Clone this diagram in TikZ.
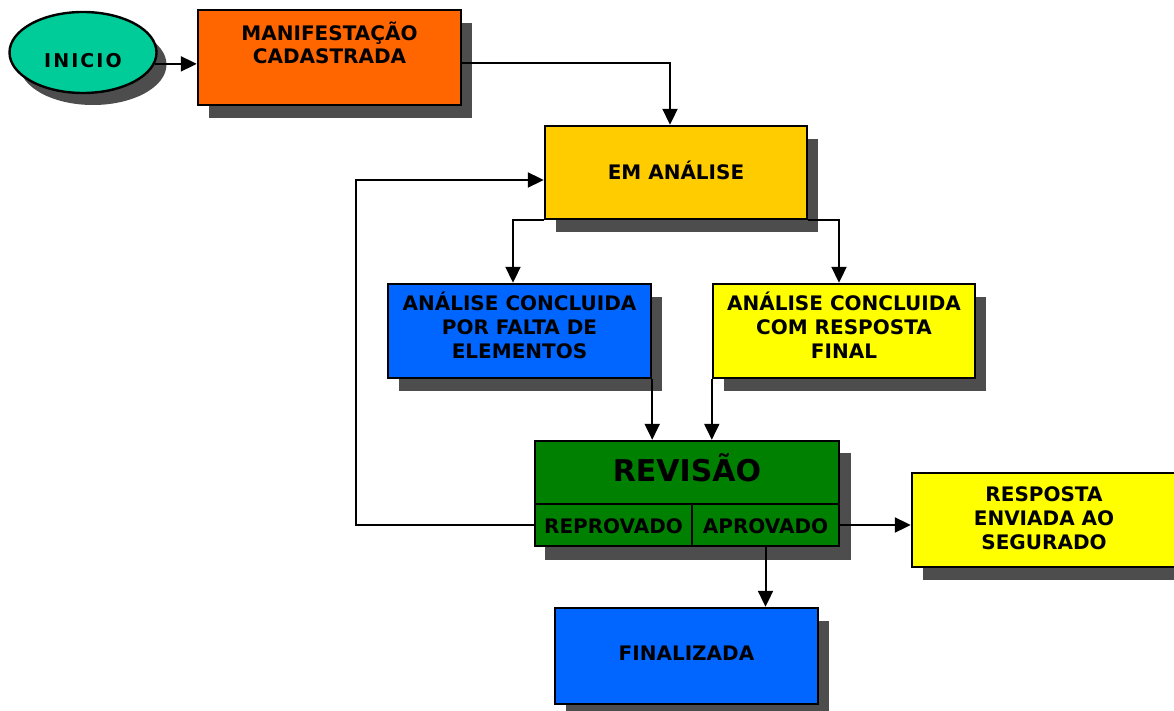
\documentclass[tikz,border=0pt]{standalone}
\usepackage{fontspec}
\setmainfont{DejaVu Sans}
\usetikzlibrary{shapes.geometric,shadows,arrows.meta,backgrounds}
\definecolor{cInicio}{RGB}{0,204,153}
\definecolor{cOrange}{RGB}{255,102,0}
\definecolor{cGold}{RGB}{255,204,0}
\definecolor{cBlue}{RGB}{0,102,255}
\definecolor{cYellow}{RGB}{255,255,0}
\definecolor{cGreen}{RGB}{0,128,0}
\definecolor{cShadow}{RGB}{77,77,77}
\begin{document}
\begin{tikzpicture}[x=1pt,y=-1pt,
  shad/.style={general shadow={fill=cShadow, shadow xshift=11pt, shadow yshift=-13pt}},
  box/.style={shad, draw=black, line width=2.4pt, rectangle, inner sep=0pt},
  cell/.style={draw=black, line width=2.4pt, rectangle, inner sep=0pt, fill=cGreen},
  lbl/.style={font=\fontsize{20}{24}\selectfont\bfseries, align=center, inner sep=0pt, text=black},
  conn/.style={line width=2pt},
  arr/.style={conn, -{Triangle[length=16pt,width=15pt]}},
]
\useasboundingbox (0,0) rectangle (1174,711);

\node[shape=ellipse, draw=black, line width=2.4pt, fill=cInicio, inner sep=0pt,
      general shadow={fill=cShadow, shadow xshift=10pt, shadow yshift=-12pt},
      minimum width=147pt, minimum height=81pt,
      label={[lbl, yshift=-8.5pt, font=\fontsize{19}{22}\selectfont\bfseries\addfontfeatures{LetterSpace=11}]center:INICIO}]
      (inicio) at (83,52.5) {};

\node[box, fill=cOrange, minimum width=263pt, minimum height=95pt,
      label={[lbl, yshift=14.5pt, font=\fontsize{20}{23}\selectfont\bfseries]center:MANIFESTAÇÃO\\CADASTRADA}]
      (mfc) at (329.5,57.5) {};

\node[box, fill=cGold, minimum width=262pt, minimum height=93pt,
      label={[lbl, yshift=2.5pt]center:EM ANÁLISE}]
      (ema) at (676,172.5) {};

\node[box, fill=cBlue, minimum width=263pt, minimum height=94pt,
      label={[lbl, yshift=6pt]center:ANÁLISE CONCLUIDA\\POR FALTA DE\\ELEMENTOS}]
      (blue) at (519.5,331) {};

\node[box, fill=cYellow, minimum width=262pt, minimum height=94pt,
      label={[lbl, yshift=6pt]center:ANÁLISE CONCLUIDA\\COM RESPOSTA\\FINAL}]
      (yel) at (844,331) {};

\node[cell, minimum width=304pt, minimum height=63pt,
      label={[lbl, yshift=4.5pt, font=\fontsize{30}{34}\selectfont\bfseries]center:REVISÃO}]
      (rev) at (687,472.5) {};
\node[cell, minimum width=157pt, minimum height=42pt,
      label={[lbl, yshift=-1pt]center:REPROVADO}]
      (rep) at (613.5,525) {};
\node[cell, minimum width=147pt, minimum height=42pt,
      label={[lbl, yshift=-1pt]center:APROVADO}]
      (apr) at (765.5,525) {};
\begin{scope}[on background layer]
  \fill[cShadow] ([xshift=11pt,yshift=-13pt]rev.north west) rectangle ([xshift=11pt,yshift=-13pt]apr.south east);
\end{scope}

\node[box, fill=cYellow, minimum width=264pt, minimum height=94pt,
      label={[lbl, yshift=2pt]center:RESPOSTA\\ENVIADA AO\\SEGURADO}]
      (resp) at (1044,520) {};

\node[box, fill=cBlue, minimum width=263pt, minimum height=96pt,
      label={[lbl, yshift=3pt]center:FINALIZADA}]
      (fin) at (686.5,656) {};

\coordinate (lp) at (356,524);

\draw[arr] (inicio.-9) -- (inicio.-9 -| mfc.west);
\draw[arr] ([yshift=-5.5pt]mfc.east) -| ([xshift=-6pt]ema.north);
\draw[arr] (ema.south west) -| ([xshift=-6.5pt]blue.north);
\draw[arr] (ema.south east) -| ([xshift=-5pt]yel.north);
\draw[arr] (blue.south east) -- (blue.south east |- rev.north);
\draw[arr] (yel.south west) -- (yel.south west |- rev.north);
\draw[arr] (apr.east) -- (apr.east -| resp.west);
\draw[arr] (apr.south) -- (apr.south |- fin.north);
\draw[arr] (rep.west) -- (rep.west -| lp) |- ([yshift=-7.5pt]ema.west);
\end{tikzpicture}
\end{document}
